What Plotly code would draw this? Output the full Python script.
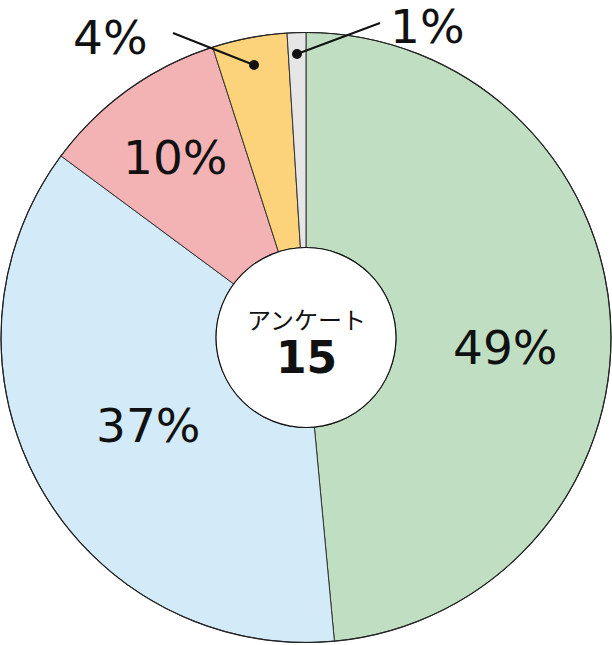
import plotly.graph_objects as go

labels = ["A", "B", "C", "D", "E"]
values = [49, 37, 10, 4, 1]
pct_labels = ["49%", "37%", "10%", "4%", "1%"]
colors = ["#c0dfc2", "#d3ebf8", "#f3b3b4", "#fcd37a", "#e6e6e6"]

W, H = 612, 645
CX, CY, R = 306, 337.5, 305
HOLE_R = 90

def px(x):
    return x / W

def py(y):
    return (H - y) / H

fig = go.Figure(go.Pie(
    labels=labels, values=values, sort=False, direction="clockwise", rotation=0,
    hole=HOLE_R / R,
    marker=dict(colors=colors, line=dict(color="#333333", width=1)),
    textinfo="none", hoverinfo="label+percent", showlegend=False,
    domain=dict(x=[px(CX - R), px(CX + R)], y=[py(CY + R), py(CY - R)]),
))

font_pct = dict(family="DejaVu Sans", size=47, color="#111111")
label_pos = [(505, 347), (148, 425), (175, 158), (110, 37), (427, 26)]
annotations = []
for t, (x, y) in zip(pct_labels, label_pos):
    annotations.append(dict(x=px(x), y=py(y), xref="paper", yref="paper", text=t,
                            showarrow=False, font=font_pct, xanchor="center", yanchor="middle"))
annotations.append(dict(x=px(CX), y=py(318), xref="paper", yref="paper", text="アンケート",
                        showarrow=False, font=dict(family="Noto Sans CJK JP", size=24, color="#111111"),
                        xanchor="center", yanchor="middle"))
annotations.append(dict(x=px(CX), y=py(357), xref="paper", yref="paper", text="<b>15</b>",
                        showarrow=False, font=dict(family="DejaVu Sans", size=44, color="#111111"),
                        xanchor="center", yanchor="middle"))

shapes = [
    dict(type="circle", xref="paper", yref="paper",
         x0=px(CX - HOLE_R), x1=px(CX + HOLE_R), y0=py(CY + HOLE_R), y1=py(CY - HOLE_R),
         line=dict(color="#111111", width=1.2), fillcolor="white"),
    dict(type="circle", xref="paper", yref="paper",
         x0=px(CX - R), x1=px(CX + R), y0=py(CY + R), y1=py(CY - R),
         line=dict(color="#222222", width=1.2)),
    dict(type="line", xref="paper", yref="paper", x0=px(173), y0=py(33), x1=px(254), y1=py(65),
         line=dict(color="#111111", width=2)),
    dict(type="circle", xref="paper", yref="paper", x0=px(249), x1=px(259), y0=py(70), y1=py(60),
         fillcolor="#111111", line=dict(color="#111111", width=0)),
    dict(type="line", xref="paper", yref="paper", x0=px(380), y0=py(23), x1=px(297), y1=py(54),
         line=dict(color="#111111", width=2)),
    dict(type="circle", xref="paper", yref="paper", x0=px(292), x1=px(302), y0=py(59), y1=py(49),
         fillcolor="#111111", line=dict(color="#111111", width=0)),
]

fig.update_layout(width=W, height=H, margin=dict(l=0, r=0, t=0, b=0),
                  paper_bgcolor="white", plot_bgcolor="white",
                  annotations=annotations, shapes=shapes)
fig.write_html("out.html", config={"displayModeBar": False},
               post_script="document.body.style.margin='0';document.body.style.overflow='hidden';")
